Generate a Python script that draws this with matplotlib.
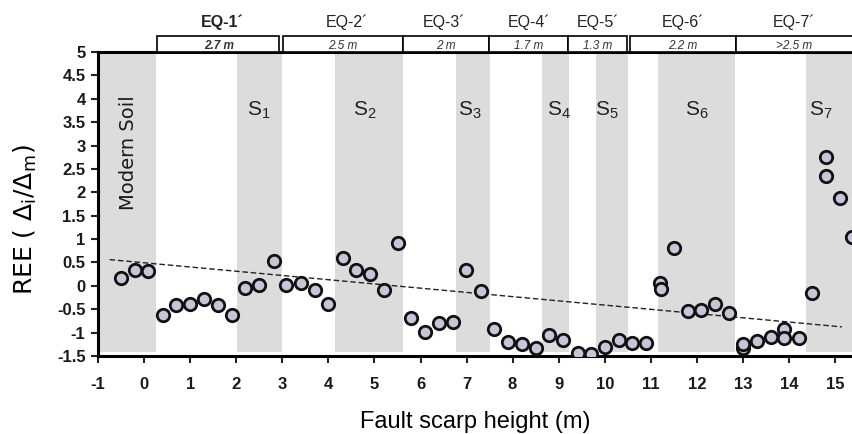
import matplotlib.pyplot as plt
from matplotlib.patches import Rectangle

plt.rcParams['font.family'] = ['Liberation Sans', 'DejaVu Sans']

# scarp height (m) and REE values
scarp_h = [-0.50, -0.20, 0.09, 0.40, 0.69, 1.00, 1.29, 1.61, 1.90, 2.18, 2.50, 2.81,
           3.08, 3.40, 3.71, 4.00, 4.31, 4.60, 4.91, 5.21, 5.51, 5.80, 6.10, 6.40,
           6.70, 6.99, 7.32, 7.60, 7.91, 8.20, 8.50, 8.79, 9.10, 9.41, 9.70, 10.01,
           10.31, 10.60, 10.90, 11.20, 11.22, 11.51, 11.80, 12.09, 12.40, 12.69,
           13.01, 13.00, 13.30, 13.60, 13.90, 13.90, 14.21, 14.50, 14.81, 14.81,
           15.10, 15.36]
ree = [0.17, 0.34, 0.31, -0.62, -0.41, -0.38, -0.28, -0.41, -0.63, -0.04, 0.02, 0.54,
       0.01, 0.05, -0.09, -0.38, 0.59, 0.34, 0.25, -0.09, 0.91, -0.68, -0.99, -0.79,
       -0.77, 0.34, -0.11, -0.93, -1.20, -1.24, -1.34, -1.05, -1.16, -1.43, -1.45, -1.31,
       -1.17, -1.22, -1.22, 0.07, -0.06, 0.80, -0.55, -0.52, -0.39, -0.59,
       -1.34, -1.25, -1.18, -1.09, -0.93, -1.11, -1.12, -0.16, 2.75, 2.34,
       1.87, 1.04]

# trend line end points
trend_x = [-0.75, 15.15]
trend_y = [0.56, -0.88]

# soil bands (start, end) and labels
band_start = [-0.95, 2.02, 4.15, 6.76, 8.63, 9.80, 11.16, 14.37]
band_end = [0.25, 3.00, 5.63, 7.50, 9.23, 10.50, 12.83, 15.6]
soil_labels = ['S1', 'S2', 'S3', 'S4', 'S5', 'S6', 'S7']
soil_x = [2.48, 4.80, 7.08, 9.00, 10.05, 12.00, 14.70]

# earthquake event boxes
eq_names = ['EQ-1´', 'EQ-2´', 'EQ-3´', 'EQ-4´', 'EQ-5´', 'EQ-6´', 'EQ-7´']
eq_start = [0.28, 3.02, 5.62, 7.49, 9.20, 10.55, 12.85]
eq_end = [2.93, 5.62, 7.49, 9.20, 10.49, 12.85, 16.0]
eq_disp = ['2.7 m', '2.5 m', '2 m', '1.7 m', '1.3 m', '2.2 m', '>2.5 m']
eq_label_x = [1.70, 4.40, 6.52, 8.35, 9.85, 11.70, 14.10]
eq_disp_x = [1.62, 4.32, 6.55, 8.35, 9.85, 11.70, 14.10]

fig = plt.figure(figsize=(8.53, 4.34), dpi=100)
ax = fig.add_axes([0.115, 0.180, 0.885, 0.700])

for s, e in zip(band_start, band_end):
    ax.add_patch(Rectangle((s, -1.42), e - s, 6.42, facecolor='#dcdcdc',
                           edgecolor='none', zorder=0))

ax.plot(trend_x, trend_y, ls=(0, (4, 2)), color='#222222', lw=1.0, zorder=2)
ax.scatter(scarp_h, ree, s=80, facecolor='#c6c6d8', edgecolor='#111111',
           linewidth=2.0, zorder=3)

ax.text(-0.35, 2.85, 'Modern Soil', rotation=90, ha='center', va='center',
        fontsize=14, family='DejaVu Sans', color='#1a1a1a')
for lab, x in zip(soil_labels, soil_x):
    ax.text(x, 3.76, '$\\mathregular{S_{%s}}$' % lab[1:], ha='center', va='center',
            fontsize=15, color='#222222')

for name, s, e, d, lx, dx in zip(eq_names, eq_start, eq_end, eq_disp,
                                 eq_label_x, eq_disp_x):
    ax.add_patch(Rectangle((s, 5.0), e - s, 0.34, facecolor='white',
                           edgecolor='black', lw=1.2, clip_on=False, zorder=5))
    ax.text(dx, 5.14, d, ha='center', va='center', fontsize=8.5, style='italic',
            color='#333333', clip_on=False, zorder=6,
            weight='bold' if name == 'EQ-1´' else 'normal')
    ax.text(lx, 5.64, name, ha='center', va='center', fontsize=11.5,
            color='#222222', weight='bold' if name == 'EQ-1´' else 'normal')

ax.set_xlim(-1, 15.39)
ax.set_ylim(-1.5, 5)
ax.set_xticks(range(-1, 16))
ax.set_yticks([-1.5, -1, -0.5, 0, 0.5, 1, 1.5, 2, 2.5, 3, 3.5, 4, 4.5, 5])
ax.set_yticklabels(['-1.5', '-1', '-0.5', '0', '0.5', '1', '1.5', '2', '2.5',
                    '3', '3.5', '4', '4.5', '5'], fontweight='bold')
ax.set_xticklabels([str(v) for v in range(-1, 16)], fontweight='bold')
ax.tick_params(axis='both', labelsize=12, width=1.5, length=5, color='#222222',
               labelcolor='#1a1a1a')
ax.tick_params(axis='x', pad=10)
ax.tick_params(axis='y', pad=4)

for side in ['left', 'bottom', 'top']:
    ax.spines[side].set_linewidth(2.2)
ax.spines['right'].set_visible(False)

ax.set_xlabel('Fault scarp height (m)', fontsize=17, labelpad=14)
ax.set_ylabel('REE ( Δ$\\mathregular{_i}$/Δ$\\mathregular{_m}$)', fontsize=18,
              family='DejaVu Sans')
ax.yaxis.set_label_coords(-0.078, 0.45)

fig.savefig('out.png', dpi=100)
